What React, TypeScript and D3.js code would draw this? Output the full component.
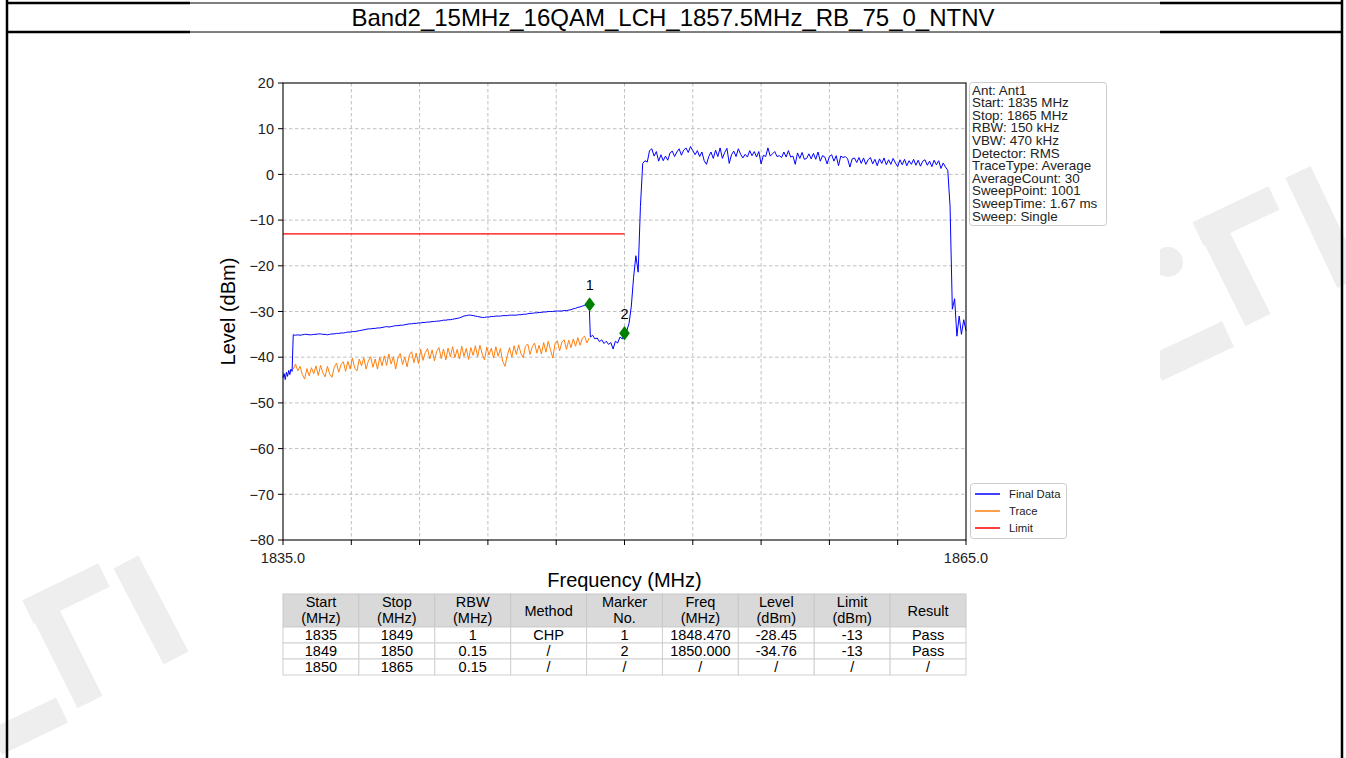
import * as d3 from 'd3';

const FONT = '"Liberation Sans", Arial, Helvetica, sans-serif';
const TITLE = 'Band2_15MHz_16QAM_LCH_1857.5MHz_RB_75_0_NTNV';

const freqDomain = [1835, 1865];
const levelDomain = [-80, 20];
const levelTicks = [-80, -70, -60, -50, -40, -30, -20, -10, 0, 10, 20];
const freqTicks = [1835, 1838, 1841, 1844, 1847, 1850, 1853, 1856, 1859, 1862, 1865];
const freqTickLabels: Record<number, string> = { 1835: '1835.0', 1865: '1865.0' };

// Final Data trace, sampled in pieces: start (MHz), step (MHz), levels (dBm)
const floorStart = 1835.0;
const floorStep = 0.05;
const finalFloor = [-44.5, -43.6, -44.9, -43.3, -44.2, -42.9, -43.8, -42.6, -43.1];

const slopeStart = 1835.45;
const slopeStep = 0.1;
const finalSlope = [
  -35.1, -35.2, -35.1, -35.2, -35.1, -35.0, -35.0, -35.1, -35.1, -35.0,
  -35.0, -34.9, -34.9, -35.0, -35.0, -35.1, -35.0, -34.9, -34.9, -34.8,
  -34.8, -34.7, -34.7, -34.6, -34.5, -34.5, -34.4, -34.4, -34.3, -34.2,
  -34.1, -34.0, -33.9, -33.8, -33.8, -33.7, -33.7, -33.6, -33.6, -33.5,
  -33.4, -33.3, -33.4, -33.3, -33.2, -33.1, -33.1, -33.0, -33.0, -32.9,
  -32.8, -32.7, -32.7, -32.6, -32.6, -32.5, -32.5, -32.4, -32.4, -32.3,
  -32.3, -32.2, -32.2, -32.1, -32.1, -32.0, -31.9, -31.9, -31.8, -31.8,
  -31.7, -31.6, -31.5, -31.4, -31.2, -31.0, -30.9, -30.8, -30.8, -30.9,
  -31.0, -31.1, -31.2, -31.3, -31.3, -31.2, -31.2, -31.1, -31.1, -31.0,
  -31.0, -31.0, -30.9, -30.9, -30.9, -30.8, -30.8, -30.8, -30.8, -30.7,
  -30.7, -30.6, -30.6, -30.5, -30.4, -30.4, -30.3, -30.3, -30.2, -30.2,
  -30.1, -30.1, -30.0, -30.0, -30.0, -29.9, -29.9, -29.9, -29.9, -29.8,
  -29.8, -29.7, -29.6, -29.4, -29.3, -29.1, -29.0, -28.8, -28.7, -28.6,
  -28.5,
];

const bandStart = 1848.5;
const bandStep = 0.1;
const finalBand = [
  -35.6, -35.2, -36.0, -35.8, -36.6, -36.2, -37.0, -36.5, -37.2, -36.8,
  -38.2, -36.5, -36.9, -35.6, -36.0, -34.8,
  -34.2, -32.6, -28.8, -22.5, -17.8, -21.4, -7.0, 2.4, 3.0, 2.7,
  5.2, 5.6, 4.0, 5.0, 2.9, 4.3, 3.0, 4.0, 3.1, 4.7,
  5.1, 3.9, 4.9, 5.6, 4.2, 5.3, 5.8, 4.8, 6.1, 5.2,
  4.3, 5.2, 3.9, 4.9, 3.0, 2.2, 3.9, 4.9, 3.5, 5.3,
  3.9, 5.8, 3.5, 4.8, 5.7, 2.4, 4.3, 5.1, 3.9, 5.6,
  4.4, 3.6, 4.4, 3.8, 5.2, 4.1, 5.0, 3.8, 5.0, 2.3,
  4.2, 3.9, 5.8, 4.0, 4.5, 5.0, 3.9, 4.1, 3.7, 4.9,
  3.8, 5.2, 3.8, 4.0, 2.2, 4.7, 3.5, 4.8, 3.3, 3.5,
  4.5, 3.4, 4.6, 3.3, 4.9, 2.9, 4.1, 3.8, 2.3, 3.9,
  4.3, 2.9, 4.1, 1.9, 4.0, 3.7, 3.9, 3.4, 1.6, 3.4,
  3.6, 2.6, 3.7, 2.4, 3.6, 2.2, 3.2, 3.7, 2.3, 3.3,
  1.9, 3.4, 2.4, 3.6, 2.1, 3.2, 2.2, 3.5, 2.5, 1.7,
  3.2, 2.1, 3.3, 1.9, 3.0, 2.2, 3.3, 2.0, 3.1, 1.8,
  2.9, 3.2, 2.0, 2.9, 1.7, 3.1, 2.1, 3.0, 1.3, 2.5,
  1.6, 0.9, -7.0, -29.5, -27.2, -35.4, -31.0, -35.0, -31.8, -34.2,
];

// Trace (orange)
const traceStart = 1835.45;
const traceStep = 0.1;
const traceLevels = [
  -42.6, -41.5, -43.0, -42.0, -43.8, -44.8, -42.5, -44.1, -42.3, -43.6,
  -41.9, -44.0, -41.8, -43.4, -44.3, -42.0, -43.7, -44.4, -42.2, -41.3,
  -43.3, -41.6, -41.0, -43.1, -40.9, -42.6, -40.2, -42.4, -43.0, -40.4,
  -41.9, -40.1, -42.6, -40.8, -39.9, -42.2, -40.4, -42.6, -40.0, -41.9,
  -39.7, -41.8, -39.3, -41.5, -39.9, -42.6, -40.1, -39.2, -41.6, -40.0,
  -42.1, -39.5, -38.8, -41.2, -39.1, -41.4, -38.3, -40.7, -39.0, -38.1,
  -40.4, -38.4, -40.8, -38.7, -37.9, -40.3, -38.2, -40.6, -38.0, -39.9,
  -37.7, -40.1, -38.3, -40.4, -37.6, -39.8, -38.1, -40.5, -37.9, -39.6,
  -37.5, -39.9, -37.4, -39.3, -40.6, -37.8, -39.5, -38.0, -40.2, -37.7,
  -39.8, -38.1, -40.9, -42.0, -39.7, -37.9, -40.0, -37.5, -39.4, -37.3,
  -39.2, -40.1, -37.6, -37.1, -39.4, -37.7, -36.9, -39.1, -37.4, -39.3,
  -36.8, -38.9, -36.5, -38.4, -40.2, -37.0, -36.4, -38.6, -36.7, -36.2,
  -38.3, -36.3, -37.9, -36.0, -37.6, -35.7, -37.4, -35.8, -35.4, -36.9,
  -35.8,
];

const limitFreqs = [1835, 1850];
const limitLevel = -13;

const markers = [
  { id: '1', freq: 1848.47, level: -28.45 },
  { id: '2', freq: 1850.0, level: -34.76 },
];

const infoLines = [
  'Ant: Ant1',
  'Start: 1835 MHz',
  'Stop: 1865 MHz',
  'RBW: 150 kHz',
  'VBW: 470 kHz',
  'Detector: RMS',
  'TraceType: Average',
  'AverageCount: 30',
  'SweepPoint: 1001',
  'SweepTime: 1.67 ms',
  'Sweep: Single',
];

const legendItems = [
  { label: 'Final Data', color: '#0000ff' },
  { label: 'Trace', color: '#ff7f0e' },
  { label: 'Limit', color: '#ff0000' },
];

const tableHeader = [
  ['Start', '(MHz)'],
  ['Stop', '(MHz)'],
  ['RBW', '(MHz)'],
  ['Method'],
  ['Marker', 'No.'],
  ['Freq', '(MHz)'],
  ['Level', '(dBm)'],
  ['Limit', '(dBm)'],
  ['Result'],
];
const tableRows = [
  ['1835', '1849', '1', 'CHP', '1', '1848.470', '-28.45', '-13', 'Pass'],
  ['1849', '1850', '0.15', '/', '2', '1850.000', '-34.76', '-13', 'Pass'],
  ['1850', '1865', '0.15', '/', '/', '/', '/', '/', '/'],
];

const W = 1346;
const H = 758;
const plot = { left: 283, right: 966, top: 83, bottom: 540 };

function sampled(start: number, step: number, values: number[]): [number, number][] {
  return values.map((v, i) => [start + i * step, v]);
}

// faint logo watermark that sits behind the figure, seen only in the margins
const watermarkBars = [
  { x1: 28, y1: 612, x2: 104, y2: 575, w: 26 },
  { x1: 42, y1: 606, x2: 90, y2: 702, w: 28 },
  { x1: 126, y1: 562, x2: 176, y2: 658, w: 28 },
  { x1: -4, y1: 742, x2: 62, y2: 710, w: 28 },
  { x1: 1198, y1: 234, x2: 1274, y2: 198, w: 26 },
  { x1: 1212, y1: 228, x2: 1258, y2: 320, w: 28 },
  { x1: 1156, y1: 368, x2: 1228, y2: 334, w: 28 },
  { x1: 1298, y1: 172, x2: 1350, y2: 282, w: 28 },
];

export default function App() {
  const x = d3.scaleLinear().domain(freqDomain).range([plot.left, plot.right]);
  const y = d3.scaleLinear().domain(levelDomain).range([plot.bottom, plot.top]);
  const line = d3
    .line<[number, number]>()
    .x((d) => x(d[0]))
    .y((d) => y(d[1]));

  const finalData = [
    ...sampled(floorStart, floorStep, finalFloor),
    ...sampled(slopeStart, slopeStep, finalSlope),
    ...sampled(bandStart, bandStep, finalBand),
  ];
  const trace = sampled(traceStart, traceStep, traceLevels);
  const limit: [number, number][] = limitFreqs.map((f) => [f, limitLevel]);

  const colW = (plot.right - plot.left) / tableHeader.length;
  const headTop = 594;
  const headH = 33;
  const rowH = 16;

  return (
    <svg
      width={W}
      height={H}
      style={{ position: 'absolute', left: 0, top: 0, background: '#fff' }}
      fontFamily={FONT}
    >
      <rect x={0} y={0} width={W} height={H} fill="#fff" />
      {watermarkBars.map((b, i) => (
        <line key={i} x1={b.x1} y1={b.y1} x2={b.x2} y2={b.y2} stroke="#eeeeee" strokeWidth={b.w} />
      ))}
      <circle cx={1168} cy={262} r={15} fill="#eeeeee" />
      {/* figure image background */}
      <rect x={190} y={33} width={970} height={H - 33} fill="#fff" />

      {/* page frame */}
      <g stroke="#000">
        <line x1={7} y1={0} x2={7} y2={H} strokeWidth={2.5} />
        <line x1={1342} y1={0} x2={1342} y2={H} strokeWidth={2.5} />
        <line x1={7} y1={3} x2={190} y2={3} strokeWidth={2.5} />
        <line x1={190} y1={3} x2={1160} y2={3} strokeWidth={1} />
        <line x1={1160} y1={3} x2={1342} y2={3} strokeWidth={2.5} />
        <line x1={7} y1={32} x2={190} y2={32} strokeWidth={2.5} />
        <line x1={190} y1={32} x2={1160} y2={32} strokeWidth={1} />
        <line x1={1160} y1={32} x2={1342} y2={32} strokeWidth={2.5} />
      </g>
      <text x={673} y={26} fontSize={24} textAnchor="middle" fill="#000">
        {TITLE}
      </text>

      {/* grid */}
      <g stroke="#b0b0b0" strokeWidth={0.8} strokeDasharray="3.5,2.5">
        {freqTicks.slice(1, -1).map((f) => (
          <line key={f} x1={x(f)} x2={x(f)} y1={plot.top} y2={plot.bottom} />
        ))}
        {levelTicks.slice(1, -1).map((l) => (
          <line key={l} x1={plot.left} x2={plot.right} y1={y(l)} y2={y(l)} />
        ))}
      </g>

      {/* traces */}
      <path d={line(finalData) ?? ''} fill="none" stroke="#0000ff" strokeWidth={1} />
      <path d={line(trace) ?? ''} fill="none" stroke="#ff7f0e" strokeWidth={1} />
      <path d={line(limit) ?? ''} fill="none" stroke="#ff0000" strokeWidth={1.2} />

      {markers.map((m) => (
        <g key={m.id} transform={`translate(${x(m.freq)},${y(m.level)})`}>
          <path d="M0,-7.2L5.3,0L0,7.2L-5.3,0Z" fill="#008000" />
          <text y={-14} fontSize={14.5} textAnchor="middle" fill="#000">
            {m.id}
          </text>
        </g>
      ))}

      {/* axes frame */}
      <rect
        x={plot.left}
        y={plot.top}
        width={plot.right - plot.left}
        height={plot.bottom - plot.top}
        fill="none"
        stroke="#000"
        strokeWidth={1.1}
      />
      {levelTicks.map((l) => (
        <g key={l}>
          <line x1={plot.left - 5} x2={plot.left} y1={y(l)} y2={y(l)} stroke="#000" strokeWidth={1} />
          <text x={plot.left - 9} y={y(l)} dy="0.36em" fontSize={14.5} textAnchor="end" fill="#222">
            {d3.format('')(l).replace('-', '\u2212')}
          </text>
        </g>
      ))}
      {freqTicks.map((f) => (
        <g key={f}>
          <line x1={x(f)} x2={x(f)} y1={plot.bottom} y2={plot.bottom + 5} stroke="#000" strokeWidth={1} />
          {freqTickLabels[f] && (
            <text x={x(f)} y={plot.bottom + 23} fontSize={14.5} textAnchor="middle" fill="#222">
              {freqTickLabels[f]}
            </text>
          )}
        </g>
      ))}
      <text
        transform={`translate(228,${(plot.top + plot.bottom) / 2}) rotate(-90)`}
        dy="0.36em"
        fontSize={20}
        textAnchor="middle"
        fill="#000"
      >
        Level (dBm)
      </text>
      <text x={(plot.left + plot.right) / 2} y={587} fontSize={20} textAnchor="middle" fill="#000">
        Frequency (MHz)
      </text>

      {/* settings box */}
      <rect x={969.5} y={82.5} width={137} height={143} rx={3} fill="#fff" stroke="#cccccc" strokeWidth={1} />
      {infoLines.map((t, i) => (
        <text key={t} x={972} y={94.5 + i * 12.6} fontSize={13.4} fill="#222">
          {t}
        </text>
      ))}

      {/* legend */}
      <rect x={970.5} y={483.5} width={96} height={55} rx={3} fill="#fff" stroke="#cccccc" strokeWidth={1} />
      {legendItems.map((it, i) => (
        <g key={it.label} transform={`translate(975,${494 + i * 17})`}>
          <line x1={0} x2={25} y1={0} y2={0} stroke={it.color} strokeWidth={1.5} />
          <text x={34} y={0} dy="0.36em" fontSize={11.3} fill="#222">
            {it.label}
          </text>
        </g>
      ))}

      {/* result table */}
      <g fontSize={14.5} fill="#000" textAnchor="middle">
        {tableHeader.map((h, c) => (
          <g key={c}>
            <rect
              x={plot.left + c * colW}
              y={headTop}
              width={colW}
              height={headH}
              fill="#d9d9d9"
              stroke="#c8c8c8"
              strokeWidth={1}
            />
            {h.map((t, k) => (
              <text
                key={k}
                x={plot.left + c * colW + colW / 2}
                y={h.length === 1 ? headTop + headH / 2 : headTop + 8 + k * 15.5}
                dy="0.36em"
              >
                {t}
              </text>
            ))}
          </g>
        ))}
        {tableRows.map((row, r) =>
          row.map((t, c) => (
            <g key={`${r}-${c}`}>
              <rect
                x={plot.left + c * colW}
                y={headTop + headH + r * rowH}
                width={colW}
                height={rowH}
                fill="#fff"
                stroke="#d0d0d0"
                strokeWidth={1}
              />
              <text x={plot.left + c * colW + colW / 2} y={headTop + headH + r * rowH + rowH / 2} dy="0.36em">
                {t}
              </text>
            </g>
          )),
        )}
      </g>
    </svg>
  );
}
